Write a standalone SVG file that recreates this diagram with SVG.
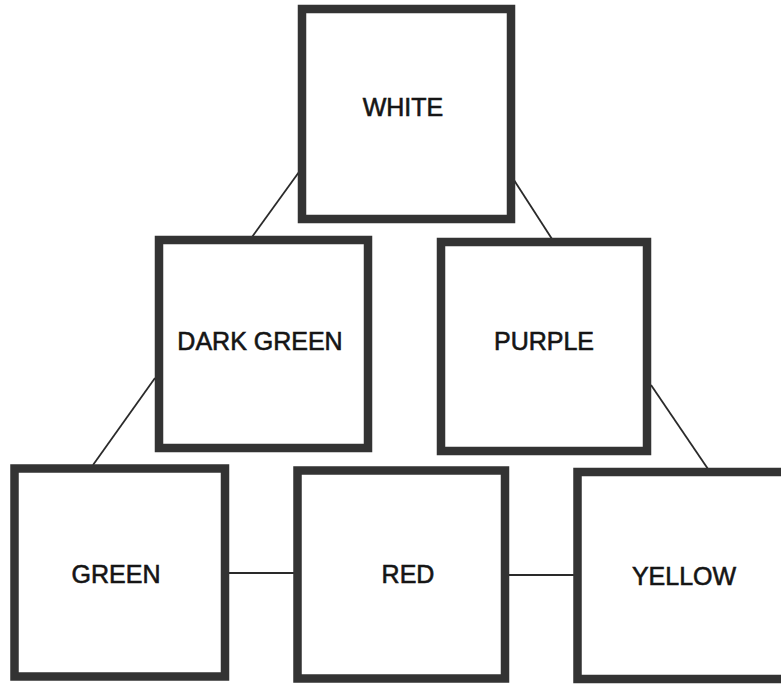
<svg xmlns="http://www.w3.org/2000/svg" width="781" height="684" viewBox="0 0 781 684">
  <style>
    .box { fill: #ffffff; stroke: #333333; stroke-width: 8.5; }
    .lbl { font-family: "Liberation Sans", Arial, sans-serif; font-size: 25px; fill: #151515; stroke: #151515; stroke-width: 0.6; text-anchor: middle; }
    .conn line { stroke: #2a2a2a; stroke-width: 1.8; }
  </style>
  <rect width="781" height="684" fill="#ffffff"/>
  <g id="connectors" class="conn">
    <line x1="299" y1="172" x2="252" y2="237"/>
    <line x1="512" y1="177" x2="552" y2="239"/>
    <line x1="155" y1="378" x2="93" y2="465"/>
    <line x1="651" y1="385" x2="708" y2="469"/>
    <line x1="229" y1="573" x2="294" y2="573"/>
    <line x1="509" y1="575" x2="574" y2="575"/>
  </g>
  <g id="white">
    <rect class="box" x="302" y="9" width="209" height="210"/>
    <text class="lbl" x="403" y="116">WHITE</text>
  </g>
  <g id="dark-green">
    <rect class="box" x="159" y="240" width="209" height="208"/>
    <text class="lbl" x="260" y="350">DARK GREEN</text>
  </g>
  <g id="purple">
    <rect class="box" x="441" y="242" width="206" height="209"/>
    <text class="lbl" x="544" y="350">PURPLE</text>
  </g>
  <g id="green">
    <rect class="box" x="14.5" y="468.5" width="210.5" height="208"/>
    <text class="lbl" x="116" y="583">GREEN</text>
  </g>
  <g id="red">
    <rect class="box" x="297.5" y="470.5" width="207.5" height="208"/>
    <text class="lbl" x="408" y="583">RED</text>
  </g>
  <g id="yellow">
    <rect class="box" x="577.5" y="472" width="215" height="207"/>
    <text class="lbl" x="684" y="585">YELLOW</text>
  </g>
</svg>
